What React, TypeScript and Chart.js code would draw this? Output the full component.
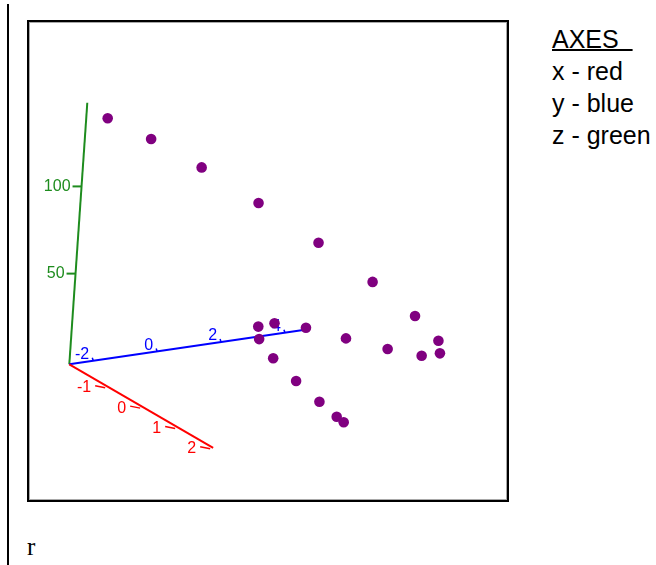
import React, { useEffect, useRef } from "react";
import { Chart, registerables } from "chart.js";

Chart.register(...registerables);

// ---- data (3D scatter, variable r) ----
const X_RANGE = [-1.91, 2.2];
const Y_RANGE = [-2.75, 4.57];
const Z_RANGE = [-2, 148];
const X_TICKS = [-1, 0, 1, 2];
const Y_TICKS = [-2, 0, 2, 4];
const Z_TICKS = [50, 100];

const POINT_X = [-1.59, -1.2, -0.61, 0.03, 0.58, 1.21, 1.71, 2.0, 2.03, 1.68, 0.95, 0.02, -0.83, -1.39, -1.49, -1.13, -0.43, 0.46, 1.27, 1.86, 2.08];
const POINT_Y = [-2.44, -1.47, -0.49, 0.65, 2.0, 3.07, 3.91, 4.37, 4.41, 4.24, 3.99, 3.72, 3.41, 3.05, 2.66, 2.3, 1.98, 1.73, 1.58, 1.48, 1.46];
const POINT_Z = [142, 132, 120, 104, 84, 66, 50, 38, 31, 26, 22, 18, 15, 12, 10, 8, 6, 4, 2, 0.5, 0];

const AXIS_COLORS = { x: "#ff0000", y: "#0000ff", z: "#1e8c1e" };
const POINT_COLOR = "#800080";

// ---- view (oblique projection of the 3D frame onto the 2D plane) ----
const PLANE = 478;
const VIEW = {
  ox: 40.3,
  oy: 135.7,
  ex: [35, -20.33],
  ey: [31.95, 4.68],
  ez: [0.12, 1.744],
};

function project(x: number, y: number, z: number) {
  const a = x - X_RANGE[0];
  const b = y - Y_RANGE[0];
  const c = z - Z_RANGE[0];
  return {
    x: VIEW.ox + a * VIEW.ex[0] + b * VIEW.ey[0] + c * VIEW.ez[0],
    y: VIEW.oy + a * VIEW.ex[1] + b * VIEW.ey[1] + c * VIEW.ez[1],
  };
}

const tickPlugin = {
  id: "axisTicks3d",
  beforeDatasetsDraw(chart: any) {
    const { ctx } = chart;
    const sx = chart.scales.x;
    const sy = chart.scales.y;
    const px = (p: { x: number; y: number }) => ({
      x: sx.getPixelForValue(p.x),
      y: sy.getPixelForValue(p.y),
    });
    ctx.save();
    ctx.font = "16px 'Liberation Sans', Arial, sans-serif";

    // x (red)
    ctx.fillStyle = AXIS_COLORS.x;
    ctx.strokeStyle = AXIS_COLORS.x;
    ctx.lineWidth = 1.5;
    ctx.textAlign = "right";
    ctx.textBaseline = "middle";
    X_TICKS.forEach((t) => {
      const p = px(project(t, Y_RANGE[0], Z_RANGE[0]));
      ctx.fillText(String(t), p.x - 10, p.y + 5);
      ctx.beginPath();
      ctx.moveTo(p.x - 6, p.y + 3);
      ctx.lineTo(p.x + 4, p.y + 5);
      ctx.stroke();
    });

    // y (blue)
    ctx.fillStyle = AXIS_COLORS.y;
    ctx.strokeStyle = AXIS_COLORS.y;
    Y_TICKS.forEach((t) => {
      const p = px(project(X_RANGE[0], t, Z_RANGE[0]));
      ctx.fillText(String(t), p.x - 4, p.y - 6);
      ctx.beginPath();
      ctx.moveTo(p.x, p.y);
      ctx.lineTo(p.x - 1, p.y - 3);
      ctx.stroke();
    });

    // z (green)
    ctx.fillStyle = AXIS_COLORS.z;
    ctx.strokeStyle = AXIS_COLORS.z;
    ctx.lineWidth = 2;
    Z_TICKS.forEach((t) => {
      const p = px(project(X_RANGE[0], Y_RANGE[0], t));
      ctx.beginPath();
      ctx.moveTo(p.x - 9, p.y);
      ctx.lineTo(p.x, p.y);
      ctx.stroke();
      ctx.fillText(String(t), p.x - 11, p.y);
    });
    ctx.restore();
  },
};

function ScatterChart() {
  const ref = useRef<HTMLCanvasElement | null>(null);
  useEffect(() => {
    if (!ref.current) return;
    const origin = project(X_RANGE[0], Y_RANGE[0], Z_RANGE[0]);
    const points = POINT_X.map((x, i) => project(x, POINT_Y[i], POINT_Z[i]));
    const axisLine = (color: string, end: { x: number; y: number }) => ({
      data: [origin, end],
      showLine: true,
      borderColor: color,
      borderWidth: 2,
      pointRadius: 0,
      fill: false,
    });
    const chart = new Chart(ref.current, {
      type: "scatter",
      data: {
        datasets: [
          {
            data: points,
            backgroundColor: POINT_COLOR,
            borderColor: POINT_COLOR,
            borderWidth: 0,
            pointRadius: 5.3,
            showLine: false,
          },
          axisLine(AXIS_COLORS.x, project(X_RANGE[1], Y_RANGE[0], Z_RANGE[0])),
          axisLine(AXIS_COLORS.y, project(X_RANGE[0], Y_RANGE[1], Z_RANGE[0])),
          axisLine(AXIS_COLORS.z, project(X_RANGE[0], Y_RANGE[0], Z_RANGE[1])),
        ] as any,
      },
      options: {
        animation: false,
        responsive: false,
        devicePixelRatio: 1,
        layout: { padding: 0, autoPadding: false },
        plugins: { legend: { display: false }, tooltip: { enabled: false } },
        scales: {
          x: { type: "linear", min: 0, max: PLANE, display: false },
          y: { type: "linear", min: 0, max: PLANE, display: false },
        },
      },
      plugins: [tickPlugin],
    });
    return () => chart.destroy();
  }, []);
  return <canvas ref={ref} width={PLANE} height={PLANE} style={{ display: "block" }} />;
}

export default function App() {
  return (
    <div style={{ position: "absolute", left: 0, top: 0, width: 656, height: 565, background: "#fff", overflow: "hidden" }}>
      <div style={{ position: "absolute", left: 7, top: 4, width: 2, height: 561, background: "#000" }} />
      <div
        style={{
          position: "absolute",
          left: 27,
          top: 20,
          width: 482,
          height: 482,
          boxSizing: "border-box",
          border: "2px solid #000",
          boxShadow: "inset 0 0 0 1px #a8a8a8",
        }}
      >
        <ScatterChart />
      </div>
      <div
        style={{
          position: "absolute",
          left: 552,
          top: 23.3,
          font: "25px 'Liberation Sans', Arial, sans-serif",
          lineHeight: "32px",
          color: "#000",
          whiteSpace: "pre",
        }}
      >
        <div>
          <span style={{ textDecoration: "underline", textDecorationThickness: "2px" }}>{"AXES\u00a0\u00a0"}</span>
        </div>
        <div>x - red</div>
        <div>y - blue</div>
        <div>z - green</div>
      </div>
      <div
        style={{
          position: "absolute",
          left: 27,
          top: 534,
          font: "25px 'Liberation Serif', 'Times New Roman', serif",
          lineHeight: "25px",
          color: "#000",
        }}
      >
        r
      </div>
    </div>
  );
}
